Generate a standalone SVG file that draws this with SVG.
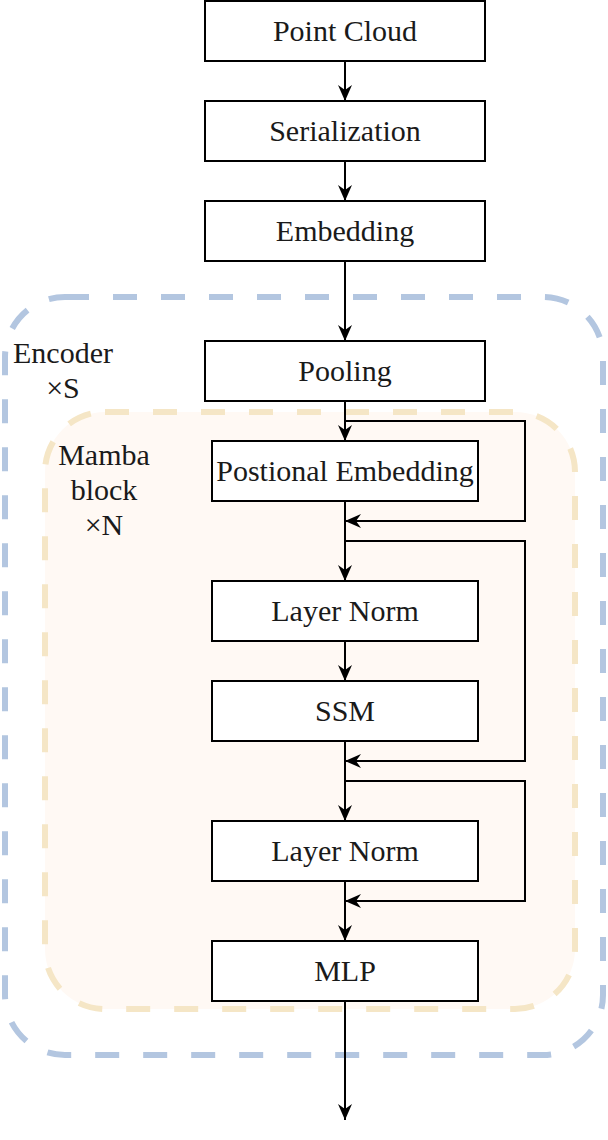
<svg xmlns="http://www.w3.org/2000/svg" width="608" height="1140" viewBox="0 0 608 1140">
  <style>
    .box { fill: #ffffff; stroke: #000000; stroke-width: 2; }
    .lbl { font-family: "Liberation Serif", "Times New Roman", serif; font-size: 30px; fill: #1a1a1a; text-anchor: middle; }
    .conn { fill: none; stroke: #000000; stroke-width: 2; }
    .enc { fill: none; stroke: #B3C6E0; stroke-width: 6; stroke-dasharray: 24 24; }
    .mamba { fill: #FFF9F4; stroke: #F5E6C6; stroke-width: 6; stroke-dasharray: 24 24; }
  </style>
  <defs>
    <marker id="arr" viewBox="0 0 16 14" refX="16" refY="7" markerWidth="16" markerHeight="14" markerUnits="userSpaceOnUse" orient="auto">
      <path d="M0,0 L16,7 L0,14 L5,7 Z" fill="#000000"/>
    </marker>
  </defs>

  <g id="encoder-group">
    <rect class="enc" x="5" y="297" width="598" height="758" rx="60" ry="60"/>
    <text class="lbl" x="63" y="363">Encoder</text>
    <text class="lbl" x="63" y="398">×S</text>
  </g>
  <g id="mamba-group">
    <rect class="mamba" x="45" y="412" width="530" height="597" rx="60" ry="60"/>
    <text class="lbl" x="104" y="465">Mamba</text>
    <text class="lbl" x="104" y="500">block</text>
    <text class="lbl" x="104" y="535">×N</text>
  </g>

  <g id="connectors">
    <line class="conn" x1="345" y1="61" x2="345" y2="101" marker-end="url(#arr)"/>
    <line class="conn" x1="345" y1="161" x2="345" y2="201" marker-end="url(#arr)"/>
    <line class="conn" x1="345" y1="261" x2="345" y2="341" marker-end="url(#arr)"/>
    <line class="conn" x1="345" y1="401" x2="345" y2="441" marker-end="url(#arr)"/>
    <line class="conn" x1="345" y1="501" x2="345" y2="581" marker-end="url(#arr)"/>
    <line class="conn" x1="345" y1="641" x2="345" y2="681" marker-end="url(#arr)"/>
    <line class="conn" x1="345" y1="741" x2="345" y2="821" marker-end="url(#arr)"/>
    <line class="conn" x1="345" y1="881" x2="345" y2="941" marker-end="url(#arr)"/>
    <line class="conn" x1="345" y1="1001" x2="345" y2="1120" marker-end="url(#arr)"/>
    <polyline class="conn" points="345,421 525,421 525,521 345,521" marker-end="url(#arr)"/>
    <polyline class="conn" points="345,541 525,541 525,761 345,761" marker-end="url(#arr)"/>
    <polyline class="conn" points="345,781 525,781 525,901 345,901" marker-end="url(#arr)"/>
  </g>

  <g id="point-cloud">
    <rect class="box" x="205" y="1" width="280" height="60"/>
    <text class="lbl" x="345" y="41">Point Cloud</text>
  </g>
  <g id="serialization">
    <rect class="box" x="205" y="101" width="280" height="60"/>
    <text class="lbl" x="345" y="141">Serialization</text>
  </g>
  <g id="embedding">
    <rect class="box" x="205" y="201" width="280" height="60"/>
    <text class="lbl" x="345" y="241">Embedding</text>
  </g>
  <g id="pooling">
    <rect class="box" x="205" y="341" width="280" height="60"/>
    <text class="lbl" x="345" y="381">Pooling</text>
  </g>
  <g id="positional-embedding">
    <rect class="box" x="212" y="441" width="266" height="60"/>
    <text class="lbl" x="345" y="481">Postional Embedding</text>
  </g>
  <g id="layer-norm-1">
    <rect class="box" x="212" y="581" width="266" height="60"/>
    <text class="lbl" x="345" y="621">Layer Norm</text>
  </g>
  <g id="ssm">
    <rect class="box" x="212" y="681" width="266" height="60"/>
    <text class="lbl" x="345" y="721">SSM</text>
  </g>
  <g id="layer-norm-2">
    <rect class="box" x="212" y="821" width="266" height="60"/>
    <text class="lbl" x="345" y="861">Layer Norm</text>
  </g>
  <g id="mlp">
    <rect class="box" x="212" y="941" width="266" height="60"/>
    <text class="lbl" x="345" y="981">MLP</text>
  </g>
</svg>
